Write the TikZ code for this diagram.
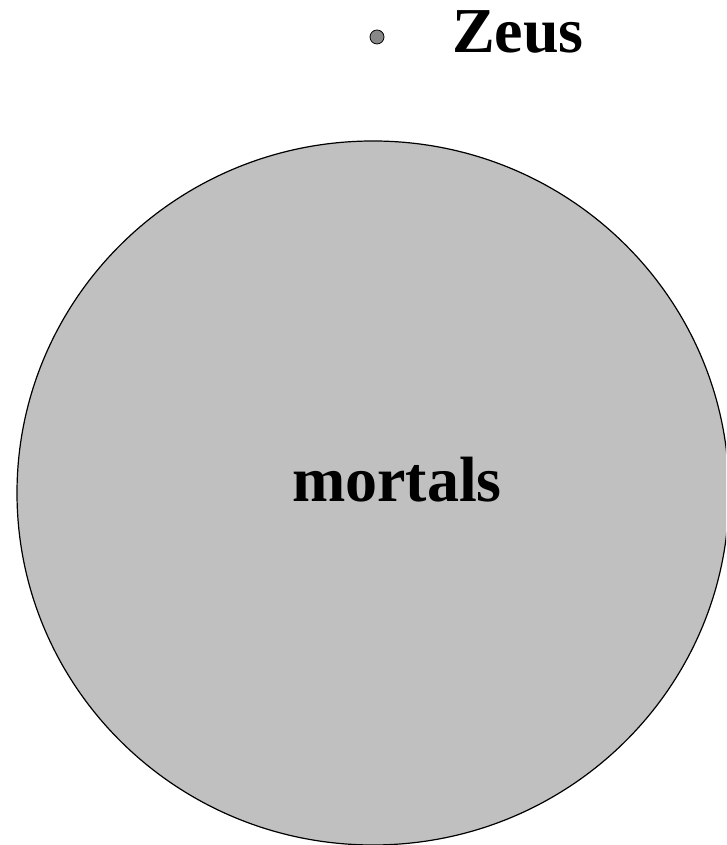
\documentclass[tikz,border=0pt]{standalone}
\usepackage{fontspec}
\setmainfont{Liberation Serif}
\definecolor{setgray}{HTML}{C0C0C0}
\definecolor{dotgray}{HTML}{888888}
\tikzset{
  lbl/.style={font=\fontsize{64}{70}\selectfont\bfseries, inner sep=0pt, anchor=base},
}
\begin{document}
\begin{tikzpicture}[x=1pt,y=1pt]
\useasboundingbox (0,0) rectangle (726,845);
\clip (0,0) rectangle (726,845);
\draw[fill=setgray, line width=1.2pt] (373,352) ellipse [x radius=356, y radius=352];
\node[lbl] (mortals) at (397,343) {mortals};
\draw[fill=dotgray, line width=0.8pt] (377,808) circle [radius=7];
\node[lbl] (zeus) at (518,792) {Zeus};
\coordinate (dot) at (377,808);
\end{tikzpicture}
\end{document}
